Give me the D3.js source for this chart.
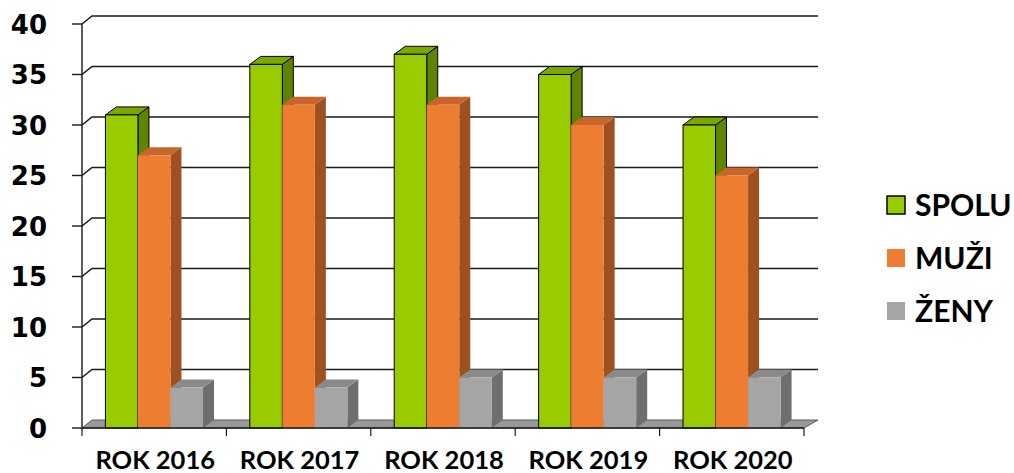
<!DOCTYPE html>
<html><head><meta charset="utf-8">
<script src="https://cdn.jsdelivr.net/npm/d3@7"></script>
<style>html,body{margin:0;padding:0;background:#fff;}svg{display:block;}</style>
</head><body>
<svg id="chart" width="1014" height="473"></svg>
<script>
const categories = ["ROK 2016","ROK 2017","ROK 2018","ROK 2019","ROK 2020"];
const seriesNames = ["SPOLU","MUŽI","ŽENY"];
const spolu = [31,36,37,35,30];
const muzi  = [27,32,32,30,25];
const zeny  = [4,4,5,5,5];
const yTicks = [0,5,10,15,20,25,30,35,40];

const seriesValues = [spolu, muzi, zeny];
const colors = {
  "SPOLU": {front:"#99CC00", side:"#5F8500", top:"#7AA800", stroke:"#000"},
  "MUŽI":  {front:"#ED7D31", side:"#9E5020", top:"#C8662A", stroke:"none"},
  "ŽENY":  {front:"#A5A5A5", side:"#6E6E6E", top:"#8A8A8A", stroke:"none"}
};

const svg = d3.select("#chart");
const x0 = 82, x1 = 804, yBase = 428, yTop = 24;
const wallDxL = 10, wallDxR = 14, wallDy = -8;
const barDx = 11, barDy = -8;

const y = d3.scaleLinear().domain([0,40]).range([yBase, yTop]);
const xCat = d3.scaleBand().domain(categories).range([x0, x1]).padding(0);
const xSer = d3.scaleBand().domain(seriesNames).range([0, xCat.bandwidth()]).paddingInner(0).paddingOuter(0.72);

// floor
svg.append("path")
  .attr("d", `M${x0},${yBase} L${x0+wallDxL},${yBase+wallDy} L${x1+wallDxR},${yBase+wallDy} L${x1},${yBase} Z`)
  .attr("fill", "#999999").attr("stroke", "#5a5a5a").attr("stroke-width", 1);

// gridlines (back wall + left wall diagonals)
const grid = svg.append("g");
yTicks.forEach(t => {
  if (t === 0) return;
  const yy = y(t);
  grid.append("path")
    .attr("d", `M${x0},${yy} L${x0+wallDxL},${yy+wallDy} L${x1+wallDxR},${yy+wallDy}`)
    .attr("fill", "none").attr("stroke", "#1a1a1a").attr("stroke-width", 1.6);
});

// bars
const bars = svg.append("g");
categories.forEach((cat, ci) => {
  seriesNames.forEach((s, si) => {
    const v = seriesValues[si][ci];
    const c = colors[s];
    const bx = xCat(cat) + xSer(s);
    const bw = xSer.bandwidth();
    const by = y(v);
    const g = bars.append("g");
    g.append("path")
      .attr("d", `M${bx+bw},${by} L${bx+bw+barDx},${by+barDy} L${bx+bw+barDx},${yBase+barDy} L${bx+bw},${yBase} Z`)
      .attr("fill", c.side).attr("stroke", c.stroke).attr("stroke-width", 1).attr("stroke-linejoin","round");
    g.append("path")
      .attr("d", `M${bx},${by} L${bx+barDx},${by+barDy} L${bx+bw+barDx},${by+barDy} L${bx+bw},${by} Z`)
      .attr("fill", c.top).attr("stroke", c.stroke).attr("stroke-width", 1).attr("stroke-linejoin","round");
    g.append("rect")
      .attr("x", bx).attr("y", by).attr("width", bw).attr("height", yBase - by)
      .attr("fill", c.front).attr("stroke", c.stroke).attr("stroke-width", 1);
  });
});

// y axis line and ticks
const axis = svg.append("g");
axis.append("line").attr("x1", x0).attr("x2", x0).attr("y1", y(40)).attr("y2", yBase)
  .attr("stroke", "#1a1a1a").attr("stroke-width", 1.4);
yTicks.forEach(t => {
  axis.append("line").attr("x1", x0-10).attr("x2", x0).attr("y1", y(t)).attr("y2", y(t))
    .attr("stroke", "#1a1a1a").attr("stroke-width", 1.4);
  axis.append("text").attr("x", 47).attr("y", y(t)).attr("dy", "0.37em")
    .attr("text-anchor", "end")
    .attr("font-family", "DejaVu Sans, Verdana, sans-serif").attr("font-weight", "bold")
    .attr("font-size", 26).attr("fill", "#000").text(t);
});

// x axis
axis.append("line").attr("x1", x0).attr("x2", x1).attr("y1", yBase).attr("y2", yBase)
  .attr("stroke", "#1a1a1a").attr("stroke-width", 1.4);
const boundaries = categories.map(c => xCat(c)).concat([x1]);
boundaries.forEach(bx => {
  axis.append("line").attr("x1", bx).attr("x2", bx).attr("y1", yBase).attr("y2", yBase+8)
    .attr("stroke", "#1a1a1a").attr("stroke-width", 1.2);
});
categories.forEach(cat => {
  axis.append("text").attr("x", xCat(cat) + xCat.bandwidth()/2 + 1).attr("y", 469)
    .attr("text-anchor", "middle")
    .attr("font-family", "Lato, Open Sans, sans-serif").attr("font-weight", "bold")
    .attr("font-size", 25.5).attr("fill", "#000").text(cat);
});

// legend
const legend = svg.append("g");
const legY = [205, 258, 311];
seriesNames.forEach((s, i) => {
  legend.append("rect").attr("x", 887).attr("y", legY[i]-9).attr("width", 18).attr("height", 18)
    .attr("fill", colors[s].front).attr("stroke", colors[s].stroke).attr("stroke-width", 1.5);
  legend.append("text").attr("x", 915).attr("y", legY[i]).attr("dy", "0.36em")
    .attr("font-family", "Lato, Open Sans, sans-serif").attr("font-weight", "bold")
    .attr("font-size", 30).attr("fill", "#000").text(s);
});
</script>
</body></html>
